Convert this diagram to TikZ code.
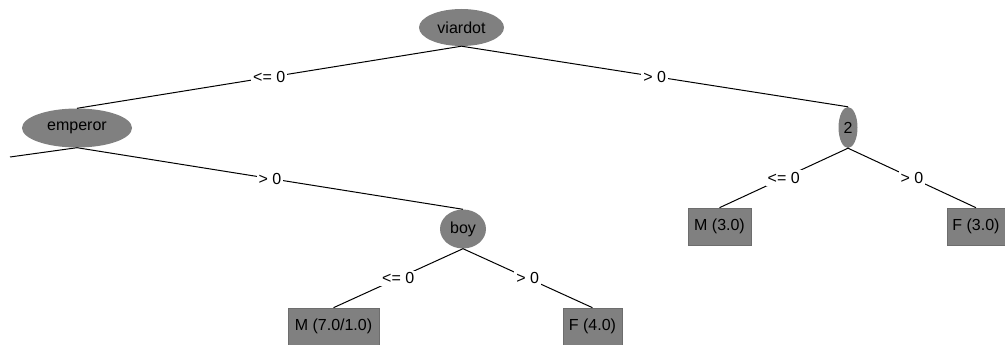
\documentclass[tikz,border=0pt]{standalone}
\usepackage{fontspec}
\setmainfont{Liberation Sans}
\usetikzlibrary{shapes.geometric}
\definecolor{nodegray}{HTML}{808080}
\tikzset{
  inner/.style={ellipse, fill=nodegray, inner sep=0pt, font=\fontsize{16}{18}\selectfont},
  leaf/.style={rectangle, fill=nodegray, draw=nodegray!85!black, line width=0.6pt, inner sep=0pt, minimum height=37pt, font=\fontsize{16}{18}\selectfont},
  edge/.style={draw=black, line width=1pt},
  lbl/.style={fill=white, inner sep=2pt, font=\fontsize{16}{18}\selectfont}
}
\begin{document}
\begin{tikzpicture}[x=1pt,y=-1pt]
\useasboundingbox (0,0) rectangle (1005,345);
\node[inner, minimum width=85pt, minimum height=37pt] (viardot) at (461.5,27.5) {viardot};
\node[inner, minimum width=110pt, minimum height=39pt] (emperor) at (77,128) {emperor};
\node[inner, minimum width=46pt, minimum height=39pt] (boy) at (463,229) {boy};
\node[inner, minimum width=19pt, minimum height=41pt] (two) at (848,127.5) {2};
\node[leaf, minimum width=91pt] (m71) at (333.5,326.5) {M (7.0/1.0)};
\node[leaf, minimum width=59pt] (f4) at (592.5,326.5) {F (4.0)};
\node[leaf, minimum width=63pt] (m3) at (719.5,226.5) {M (3.0)};
\node[leaf, minimum width=58pt] (f3) at (976,226.5) {F (3.0)};
\coordinate (offleft) at (10,157);

\draw[edge] (viardot.south) -- node[lbl] {<= 0} (emperor.north);
\draw[edge] (viardot.south) -- node[lbl] {> 0} (two.north);
\draw[edge] (emperor.south) -- (offleft);
\draw[edge] (emperor.south) -- node[lbl] {> 0} (boy.north);
\draw[edge] (boy.south) -- node[lbl] {<= 0} (m71.north);
\draw[edge] (boy.south) -- node[lbl] {> 0} (f4.north);
\draw[edge] (two.south) -- node[lbl] {<= 0} (m3.north);
\draw[edge] (two.south) -- node[lbl] {> 0} (f3.north);
\end{tikzpicture}
\end{document}
